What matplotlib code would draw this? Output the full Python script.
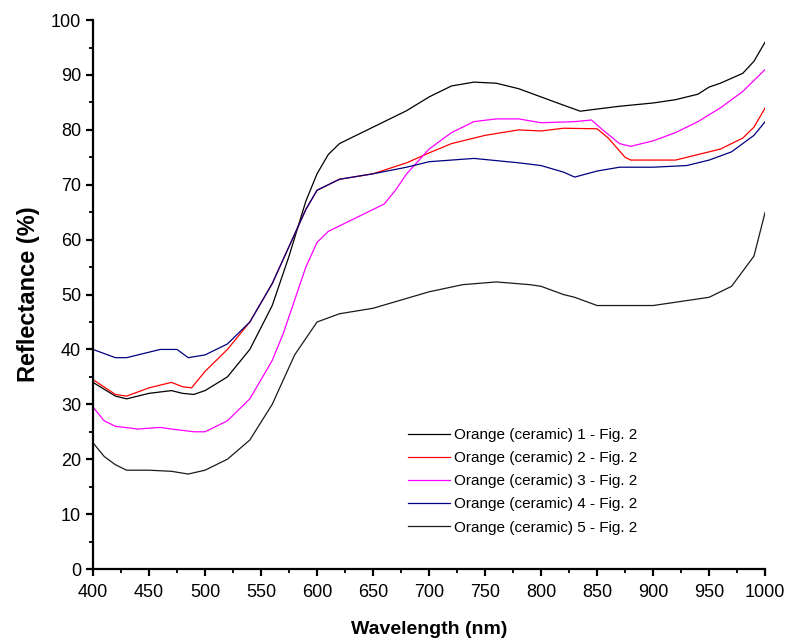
import matplotlib
matplotlib.use("Agg")
import matplotlib.pyplot as plt
from matplotlib.ticker import MultipleLocator

# values
wl_1 = [400, 420, 430, 450, 470, 480, 490, 500, 520, 540, 560, 575, 590, 600, 610, 620,
        640, 660, 680, 700, 720, 740, 760, 780, 800, 820, 835, 850, 870, 900, 920, 940,
        950, 960, 980, 990, 1000]
refl_1 = [34, 31.5, 31, 32, 32.5, 32, 31.8, 32.5, 35, 40, 48, 57, 67, 72, 75.5, 77.5,
          79.5, 81.5, 83.5, 86, 88, 88.7, 88.5, 87.5, 86, 84.5, 83.4, 83.8, 84.3, 84.9,
          85.5, 86.5, 87.8, 88.5, 90.3, 92.5, 96]

wl_2 = [400, 420, 430, 450, 470, 480, 488, 500, 520, 540, 560, 580, 590, 600, 620, 650,
        680, 700, 720, 750, 780, 800, 820, 850, 860, 875, 880, 900, 920, 940, 960, 980,
        990, 1000]
refl_2 = [34.5, 31.8, 31.5, 33, 34, 33.2, 33, 36, 40, 45, 52, 61, 65.5, 69, 71, 72,
          74, 75.8, 77.5, 79, 80, 79.8, 80.3, 80.2, 78.5, 75, 74.5, 74.5, 74.5, 75.5,
          76.5, 78.5, 80.5, 84]

wl_3 = [400, 410, 420, 440, 460, 470, 490, 500, 520, 540, 560, 570, 580, 590, 600, 610,
        620, 640, 660, 670, 680, 700, 720, 740, 760, 780, 800, 830, 845, 855, 870, 880,
        900, 920, 940, 960, 980, 990, 1000]
refl_3 = [29.5, 27, 26, 25.5, 25.8, 25.5, 25, 25, 27, 31, 38, 43, 49, 55, 59.5, 61.5,
          62.5, 64.5, 66.5, 69, 72, 76.5, 79.5, 81.5, 82, 82, 81.3, 81.5, 81.8, 80, 77.5,
          77, 78, 79.5, 81.5, 84, 87, 89, 91]

wl_4 = [400, 420, 430, 450, 460, 475, 485, 500, 520, 540, 560, 580, 590, 600, 620, 650,
        680, 700, 740, 780, 800, 820, 830, 850, 870, 900, 930, 950, 970, 990, 1000]
refl_4 = [40, 38.5, 38.5, 39.5, 40, 40, 38.5, 39, 41, 45, 52, 61, 65.5, 69, 71, 72,
          73.2, 74.2, 74.8, 74, 73.5, 72.3, 71.4, 72.5, 73.2, 73.2, 73.5, 74.5, 76, 79,
          81.5]

wl_5 = [400, 410, 420, 430, 450, 470, 485, 500, 520, 540, 560, 580, 600, 620, 650, 700,
        730, 760, 790, 800, 820, 830, 850, 900, 950, 970, 990, 1000]
refl_5 = [23, 20.5, 19, 18, 18, 17.8, 17.3, 18, 20, 23.5, 30, 39, 45, 46.5, 47.5, 50.5,
          51.8, 52.3, 51.8, 51.5, 50, 49.5, 48, 48, 49.5, 51.5, 57, 65]

labels = ["Orange (ceramic) 1 - Fig. 2", "Orange (ceramic) 2 - Fig. 2",
          "Orange (ceramic) 3 - Fig. 2", "Orange (ceramic) 4 - Fig. 2",
          "Orange (ceramic) 5 - Fig. 2"]
colors = ["#000000", "#ff0000", "#ff00ff", "#000080", "#1a1a1a"]

plt.rcParams["font.family"] = ["Liberation Sans", "DejaVu Sans"]

fig = plt.figure(figsize=(7.88, 6.42), dpi=100)
ax = fig.add_axes([0.118, 0.1137, 0.853, 0.855])

series = [(wl_1, refl_1), (wl_2, refl_2), (wl_3, refl_3), (wl_4, refl_4), (wl_5, refl_5)]
for (x, y), lab, c in zip(series, labels, colors):
    ax.plot(x, y, color=c, lw=0.9, label=lab)

ax.set_xlim(400, 1000)
ax.set_ylim(0, 100)
ax.xaxis.set_major_locator(MultipleLocator(50))
ax.xaxis.set_minor_locator(MultipleLocator(25))
ax.yaxis.set_major_locator(MultipleLocator(10))
ax.yaxis.set_minor_locator(MultipleLocator(5))

for side in ["top", "right"]:
    ax.spines[side].set_visible(False)
for side in ["left", "bottom"]:
    ax.spines[side].set_linewidth(1.6)

ax.tick_params(which="major", direction="out", length=5, width=1.6, labelsize=13)
ax.tick_params(axis="x", which="major", pad=6)
ax.tick_params(which="minor", direction="out", length=3, width=1.3)

ax.set_xlabel("Wavelength (nm)", fontsize=14, fontweight="bold", labelpad=14)
ax.set_ylabel("Reflectance (%)", fontsize=17, fontweight="bold", labelpad=8)

leg = ax.legend(loc="upper left", bbox_to_anchor=(0.469, 0.257), frameon=False,
                fontsize=11, handlelength=2.75, handletextpad=0.25, labelspacing=0.6,
                borderpad=0, borderaxespad=0)

fig.savefig("out.png", dpi=100)
